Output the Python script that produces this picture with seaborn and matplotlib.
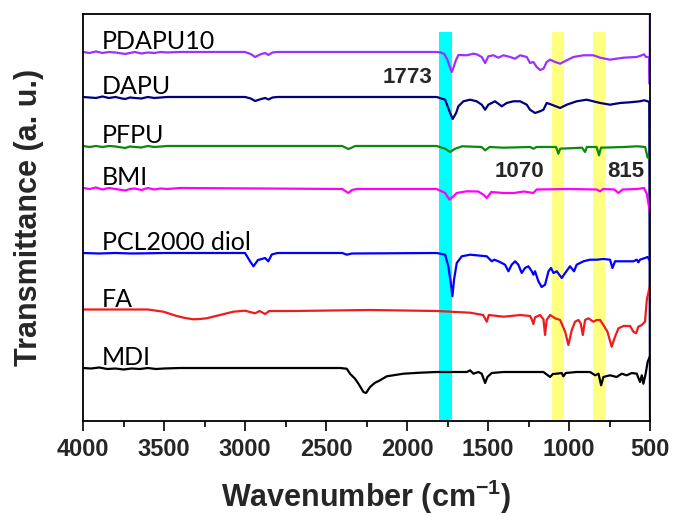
import numpy as np
import seaborn as sns
import matplotlib.pyplot as plt
from matplotlib.ticker import MultipleLocator

# FTIR traces: wavenumber (cm-1) and relative transmittance
pdapu10_wn = [4000, 3960, 3920, 3880, 3840, 3800, 3760, 3740, 3710, 3680,
              3640, 3600, 3560, 3520, 3480, 3400, 3000, 2965, 2938, 2900,
              2875, 2856, 2830, 2800, 1817, 1790, 1770, 1750, 1738, 1724,
              1710, 1700, 1683, 1632, 1590, 1570, 1539, 1518, 1498, 1467,
              1436, 1405, 1364, 1333, 1302, 1261, 1241, 1220, 1200, 1179,
              1158, 1138, 1117, 1086, 1055, 1014, 973, 911, 850, 808,
              747, 706, 664, 582, 551, 537, 525, 505, 502, 500]
pdapu10_t = [0, -1, 0.5, -1, 0, -0.5, -1.5, -2, -1, 0,
             -1.5, -0.5, -1, 0, -0.5, 0, 0, -2, -5, -2,
             -1, -3, -0.5, 0, 0, -0.5, -2, -8, -14, -20,
             -14, -9, -3, -3.3, -1.7, -2.3, -5, -11, -4.3, -3.3,
             -5.7, -3.3, -5, -6.7, -3.3, -5, -11, -10, -15, -18,
             -16.7, -10, -7.7, -10, -11.7, -8.3, -5, -3.3, -3.3, -5.7,
             -7.7, -6.7, -5.7, -5, -3.3, -2.3, -5, -5, -32, 80]

dapu_wn = [4000, 3960, 3920, 3880, 3840, 3800, 3760, 3740, 3710, 3680,
           3640, 3600, 3560, 3520, 3480, 3400, 3000, 2965, 2938, 2900,
           2875, 2856, 2830, 2800, 1817, 1765, 1734, 1718, 1697, 1683,
           1652, 1611, 1570, 1539, 1518, 1498, 1457, 1415, 1385, 1343,
           1302, 1261, 1241, 1210, 1179, 1158, 1138, 1107, 1055, 1014,
           953, 891, 808, 747, 685, 623, 562, 537, 520, 505, 500]
dapu_t = [0, -0.5, -1, 0.5, -1, 0, -1.5, -2, -0.5, -1,
          -1.5, 0, -1, -0.5, 0, 0, 0, -1.5, -4, -2,
          -1, -2.5, -0.5, 0, 0, -2.7, -16, -22, -16, -9.3,
          -4.3, -2.7, -4.3, -7.7, -12.7, -7.7, -4.3, -9.3, -6, -4.3,
          -4.3, -7.7, -12.7, -16, -14.3, -12.7, -6, -7.7, -11, -7.7,
          -4.3, -2.7, -6, -7.7, -6, -5.3, -4.3, -3.3, -4, -5, -330]

pfpu_wn = [4000, 3960, 3920, 3880, 3840, 3800, 3760, 3740, 3710, 3680,
           3640, 3600, 3560, 3520, 3480, 3400, 2400, 2362, 2340, 2320,
           1817, 1765, 1734, 1703, 1660, 1540, 1518, 1490, 1405, 1240,
           1220, 1200, 1080, 1066, 1055, 920, 901, 890, 830, 815,
           803, 660, 580, 530, 516, 500]
pfpu_t = [0, -1, 0, -1, 0, -0.5, -1.5, -2, -0.5, -1,
          -1.5, 0, -1, -0.5, 0, 0, 0, -3, -1.5, 0,
          0, -2.7, -6, -2.7, -0.3, -1, -4.3, -1, -1.7, -1,
          -2.7, -1, -1, -7.7, -2.7, -1.7, -6, -1, -1, -9.3,
          -1.7, -1, -0.3, -1, -11, -14]

bmi_wn = [4000, 3960, 3920, 3880, 3840, 3800, 3760, 3740, 3710, 3680,
          3640, 3600, 3560, 3520, 3480, 3400, 2400, 2362, 2340, 2310,
          1817, 1765, 1738, 1714, 1693, 1632, 1560, 1529, 1508, 1480,
          1405, 1340, 1280, 1220, 1200, 1000, 830, 808, 790, 720,
          695, 670, 580, 537, 520, 500]
bmi_t = [0, -1, 0.5, -1.5, 0, -1, -2, -2.5, -1, -0.5,
         -2, 0, -1.5, -0.5, -1, 0, -1, -5, -2, -1,
         -1, -5, -11.7, -8.3, -5, -3.3, -3.5, -6.7, -10, -4,
         -5, -5, -3.5, -5, -1.5, -1, -1.5, -3.3, -1, -1.5,
         -5, -1.5, -1, 0, -6, -25]

pcl_wn = [4000, 3900, 3800, 3700, 3600, 3500, 3000, 2969, 2948, 2920,
          2897, 2876, 2856, 2835, 2800, 2400, 2372, 2340, 1817, 1765,
          1745, 1730, 1720, 1710, 1693, 1662, 1611, 1508, 1477, 1462,
          1436, 1415, 1395, 1374, 1354, 1333, 1313, 1292, 1272, 1251,
          1230, 1220, 1210, 1189, 1169, 1148, 1127, 1111, 1096, 1076,
          1045, 1024, 994, 969, 953, 911, 870, 829, 788, 747,
          732, 716, 664, 602, 582, 572, 562, 531, 515, 500]
pcl_t = [0, -0.5, 0, -0.5, -0.3, 0, 0, -8.3, -13.3, -7,
         -6, -5, -8.3, -1.5, 0, 0, -1.7, -0.5, 0, -1.7,
         -13.3, -30, -43.3, -26.7, -10, -3.3, -1.7, -3.3, -8.3, -6.7,
         -8.3, -10, -11.7, -18.3, -11.7, -8.3, -11.7, -20, -15, -13.3,
         -18.3, -21.7, -18.3, -28.3, -34, -31.7, -18.3, -15, -20, -18.3,
         -25, -20, -13.3, -18.3, -11.7, -8.3, -6.7, -6.7, -6, -6.7,
         -15, -8.3, -8.3, -8.3, -6.7, -9.3, -6.7, -5, -4, -8]

fa_wn = [4000, 3800, 3600, 3504, 3422, 3370, 3319, 3280, 3237, 3154,
         3072, 3000, 2938, 2910, 2876, 2850, 2700, 2228, 1817, 1611,
         1530, 1508, 1495, 1405, 1360, 1302, 1240, 1230, 1220, 1210,
         1179, 1158, 1148, 1138, 1117, 1086, 1055, 1024, 1004, 983,
         963, 942, 928, 915, 901, 880, 850, 829, 808, 788,
         763, 737, 716, 695, 664, 623, 603, 586, 572, 551,
         531, 520, 500]
fa_t = [0.5, 0.5, 0.5, -1.7, -6, -8, -9.3, -9, -8.3, -5,
        -1.7, -0.7, -3.3, -1, -4, -1, -1, 0, -1, -2.7,
        -5, -11.7, -5, -6.7, -6, -5, -6, -9.3, -14, -7.3,
        -5, -9.3, -25, -10, -5, -8.3, -10, -21.7, -35, -20,
        -11.7, -10, -13.3, -25, -10, -8.3, -11.7, -10, -10, -15,
        -21.7, -36.7, -26.7, -18.3, -16, -16, -21.7, -23.3, -16.7, -15,
        -11.7, 10, 25]

mdi_wn = [4000, 3950, 3900, 3850, 3800, 3750, 3700, 3650, 3600, 3550,
          3500, 3400, 2413, 2372, 2352, 2321, 2300, 2269, 2253, 2228,
          2200, 2167, 2125, 2022, 1920, 1817, 1630, 1611, 1590, 1560,
          1539, 1518, 1504, 1477, 1405, 1158, 1117, 1100, 1076, 1045,
          1035, 1020, 953, 870, 839, 818, 802, 788, 747, 706,
          675, 644, 613, 582, 562, 551, 541, 527, 515, 500]
mdi_t = [0, -0.5, 0.5, -1, -0.5, -1.5, -0.5, -1, 0, -1,
         -0.5, 0, 0, -0.7, -5.7, -10.7, -15.7, -24, -25, -19,
         -15, -12.3, -8.3, -5.7, -4.7, -4, -4, -2.3, -5.7, -4,
         -5.7, -15, -9, -5, -4, -4, -9, -6, -5.7, -5,
         -8.3, -5, -4, -4, -7.3, -5.7, -17.3, -9, -7.3, -9,
         -5.7, -7.3, -5, -5.7, -14, -7.3, -15.7, -5.7, 6, 12]

names = ["PDAPU10", "DAPU", "PFPU", "BMI", "PCL2000 diol", "FA", "MDI"]
spectra_wn = [pdapu10_wn, dapu_wn, pfpu_wn, bmi_wn, pcl_wn, fa_wn, mdi_wn]
spectra_t = [pdapu10_t, dapu_t, pfpu_t, bmi_t, pcl_t, fa_t, mdi_t]
offsets = [369, 324, 275, 233, 168, 111, 53]
colors = ["#9b30ff", "#000080", "#0a8a0a", "#ff00ff", "#0000ff", "#ee1c1c", "#000000"]

# highlighted bands and their labels
bands = [(1800, 1725), (1105, 1030), (852, 778)]
band_colors = ["#00ffff", "#ffff80", "#ffff80"]
peak_labels = ["1773", "1070", "815"]
peak_pos = [(2148, 338), (1457, 244), (765, 244)]

sns.set_theme(style="ticks")
plt.rcParams['font.family'] = ['Liberation Sans', 'DejaVu Sans']
plt.rcParams['mathtext.fontset'] = 'custom'
plt.rcParams['mathtext.rm'] = 'Liberation Sans:bold'
plt.rcParams['mathtext.default'] = 'rm'

fig = plt.figure(figsize=(6.76, 5.16), dpi=100)
ax = fig.add_axes([0.1228, 0.1841, 0.8388, 0.7888])

for (a, b), c in zip(bands, band_colors):
    ax.axvspan(a, b, ymin=0, ymax=0.956, color=c, lw=0, zorder=0)

for name, wn, t, off, col in zip(names, spectra_wn, spectra_t, offsets, colors):
    y = np.array(t) + off
    sns.lineplot(x=wn, y=y, color=col, lw=1.6, ax=ax, estimator=None, sort=False)
    ax.text(3885, off + 3, name, family=['Lato', 'DejaVu Sans'], fontsize=18,
            va='baseline', ha='left', color='black')

for lab, (x, y) in zip(peak_labels, peak_pos):
    ax.text(x, y, lab, fontsize=16, fontweight='bold', va='baseline', ha='left')

ax.set_xlim(4000, 500)
ax.set_ylim(0, 407)
ax.xaxis.set_major_locator(MultipleLocator(500))
ax.xaxis.set_minor_locator(MultipleLocator(250))
ax.set_yticks([])
ax.tick_params(axis='x', which='major', direction='out', length=7, width=1.2,
               labelsize=17, pad=5, color='black')
ax.tick_params(axis='x', which='minor', direction='out', length=4, width=1.2,
               color='black')
for lbl in ax.get_xticklabels():
    lbl.set_fontweight('bold')
for s in ax.spines.values():
    s.set_linewidth(1.3)
    s.set_color('black')

ax.set_xlabel(r'Wavenumber (cm$^{-1}$)', fontsize=22, fontweight='bold', labelpad=12)
ax.set_ylabel('Transmittance (a. u.)', fontsize=22, fontweight='bold', labelpad=28)

fig.savefig("out.png", dpi=100)
